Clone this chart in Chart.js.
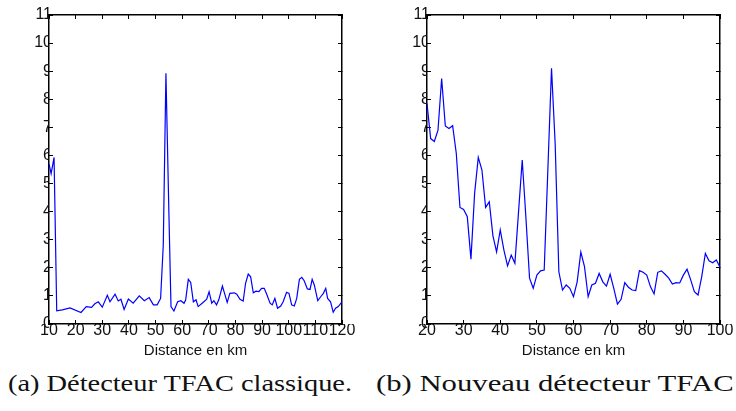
<!DOCTYPE html>
<html>
<head>
<meta charset="utf-8">
<script src="https://cdn.jsdelivr.net/npm/chart.js@4/dist/chart.umd.min.js"></script>
<style>
  html, body { margin: 0; padding: 0; background: #fff; }
  body { width: 736px; height: 411px; position: relative; overflow: hidden; }
  .panel { position: absolute; top: 0; width: 368px; height: 370px; }
  .caption {
    position: absolute; top: 370px; white-space: nowrap;
    font-family: "Liberation Serif", serif; font-size: 24px; color: #111;
    transform-origin: 0 0;
  }
</style>
</head>
<body>
<div class="panel" style="left:0"><canvas id="chartA" width="368" height="370"></canvas></div>
<div class="panel" style="left:368px"><canvas id="chartB" width="368" height="370"></canvas></div>
<div class="caption" id="capA" style="left:8px">(a) Détecteur TFAC classique.</div>
<div class="caption" id="capB" style="left:376px">(b) Nouveau détecteur TFAC</div>

<script>
// (a) classic detector, km / value
const kmA = [10, 10.8, 11.9, 12.9, 15, 17.9, 22, 24, 26, 27.2, 28.5, 30, 31.9, 32.9,
  34.8, 36, 37, 38.2, 39.8, 41.6, 43.9, 45.8, 47.6, 49.2, 50.6, 51.9, 52.9, 53.9,
  55, 55.8, 56.9, 58.3, 59.5, 60.7, 61.3, 62.3, 63.2, 64.2, 65.2, 66, 67.5, 69.2,
  70.1, 71.1, 71.9, 72.9, 73.8, 75.1, 76.1, 76.9, 77.9, 79.6, 80.5, 81.7, 82.9,
  83.8, 84.8, 85.7, 86.7, 87.7, 88.8, 89.8, 90.8, 91.7, 93, 93.8, 94.8, 95.8, 97,
  97.9, 99.2, 100.1, 101.1, 102.1, 103, 104, 104.9, 105.8, 107, 108, 108.8, 109.6,
  110.9, 112, 113, 113.9, 114.6, 115.7, 116.7, 117.6, 118.6, 120];
const valA = [5.7, 5.35, 5.93, 0.47, 0.5, 0.57, 0.41, 0.62, 0.59, 0.72, 0.79, 0.6, 1.02, 0.79,
  1.06, 0.82, 0.88, 0.52, 0.89, 0.74, 1.0, 0.83, 0.94, 0.68, 0.68, 0.91, 2.8, 8.93,
  4.0, 0.62, 0.46, 0.79, 0.83, 0.74, 0.85, 1.59, 1.48, 0.79, 0.86, 0.62, 0.74, 0.88,
  1.15, 0.74, 0.83, 0.68, 0.88, 1.35, 1.03, 0.77, 1.09, 1.11, 1.06, 0.88, 0.82,
  1.45, 1.78, 1.68, 1.11, 1.17, 1.15, 1.27, 1.27, 1.07, 0.74, 0.68, 0.91, 0.56, 0.64,
  0.79, 1.13, 1.09, 0.68, 0.64, 0.91, 1.59, 1.66, 1.54, 1.25, 1.23, 1.59, 1.39,
  0.83, 0.97, 1.09, 1.27, 0.91, 0.79, 0.42, 0.56, 0.62, 0.79];

// (b) new detector, one point per km
const kmB = [20, 21, 22, 23, 24, 25, 26, 27, 28, 29, 30, 31, 32, 33, 34, 35, 36, 37, 38, 39,
  40, 41, 42, 43, 44, 45, 46, 47, 48, 49, 50, 51, 52, 53, 54, 55, 56, 57, 58, 59,
  60, 61, 62, 63, 64, 65, 66, 67, 68, 69, 70, 71, 72, 73, 74, 75, 76, 77, 78, 79,
  80, 81, 82, 83, 84, 85, 86, 87, 88, 89, 90, 91, 92, 93, 94, 95, 96, 97, 98, 99, 100];
const valB = [7.85, 6.6, 6.5, 6.9, 8.74, 7.05, 6.96, 7.06, 6.07, 4.15, 4.08, 3.82, 2.31, 4.65,
  5.93, 5.48, 4.15, 4.35, 3.14, 2.57, 3.35, 2.63, 2.07, 2.45, 2.16, 4.0, 5.84, 3.8,
  1.63, 1.27, 1.74, 1.89, 1.92, 5.5, 9.1, 6.4, 1.86, 1.21, 1.39, 1.27, 0.97, 1.5,
  2.56, 2.04, 0.97, 1.39, 1.45, 1.8, 1.5, 1.35, 1.77, 1.27, 0.71, 0.88, 1.47, 1.31,
  1.21, 1.19, 1.9, 1.84, 1.74, 1.33, 1.07, 1.84, 1.89, 1.77, 1.63, 1.42, 1.47, 1.46,
  1.74, 1.95, 1.57, 1.15, 1.03, 1.68, 2.51, 2.25, 2.18, 2.28, 2.02];

const yMin = 0, yMax = 11;
const xLabel = "Distance en km";

const tickFont = { family: "Liberation Sans", size: 16 };

function frameAxis(extra) {
  return Object.assign({
    type: "linear",
    grid: { drawOnChartArea: false, tickLength: -4, color: "#000", lineWidth: 1 },
    border: { color: "#000", width: 1.5 },
  }, extra);
}

function makeChart(id, xs, ys, xMin, xMax, axisWidth, padRight) {
  const points = xs.map((x, i) => ({ x: x, y: ys[i] }));
  return new Chart(document.getElementById(id), {
    type: "line",
    data: {
      datasets: [{
        data: points,
        borderColor: "#0000ff",
        borderWidth: 1.2,
        pointRadius: 0,
        tension: 0,
        fill: false,
      }],
    },
    options: {
      responsive: false,
      animation: false,
      events: [],
      layout: { padding: { top: 15, right: padRight, left: 0, bottom: 0 } },
      plugins: { legend: { display: false }, tooltip: { enabled: false } },
      scales: {
        x: frameAxis({
          position: "bottom", min: xMin, max: xMax,
          ticks: { stepSize: 10, color: "#111", font: tickFont, padding: 1, maxRotation: 0, autoSkip: false },
          title: { display: true, text: xLabel, color: "#111",
                   font: { family: "Liberation Sans", size: 15 }, padding: { top: 0, bottom: 10 } },
          afterFit: (s) => { s.height = 46; },
        }),
        x2: frameAxis({
          position: "top", min: xMin, max: xMax,
          ticks: { stepSize: 10, display: false },
          afterFit: (s) => { s.height = 0; },
        }),
        y: frameAxis({
          position: "left", min: yMin, max: yMax,
          ticks: { stepSize: 1, color: "#111", font: tickFont, padding: 1 },
          afterFit: (s) => { s.width = axisWidth; },
        }),
        y2: frameAxis({
          position: "right", min: yMin, max: yMax,
          ticks: { stepSize: 1, display: false },
          afterFit: (s) => { s.width = 0; },
        }),
      },
    },
  });
}

makeChart("chartA", kmA, valA, 10, 120, 49, 26);
makeChart("chartB", kmB, valB, 20, 100, 59, 16);

// stretch captions to the width they take in the figure
function fitCaption(id, w) {
  const el = document.getElementById(id);
  el.style.transform = "scaleX(" + (w / el.offsetWidth) + ")";
}
fitCaption("capA", 344);
fitCaption("capB", 358);
</script>
</body>
</html>
